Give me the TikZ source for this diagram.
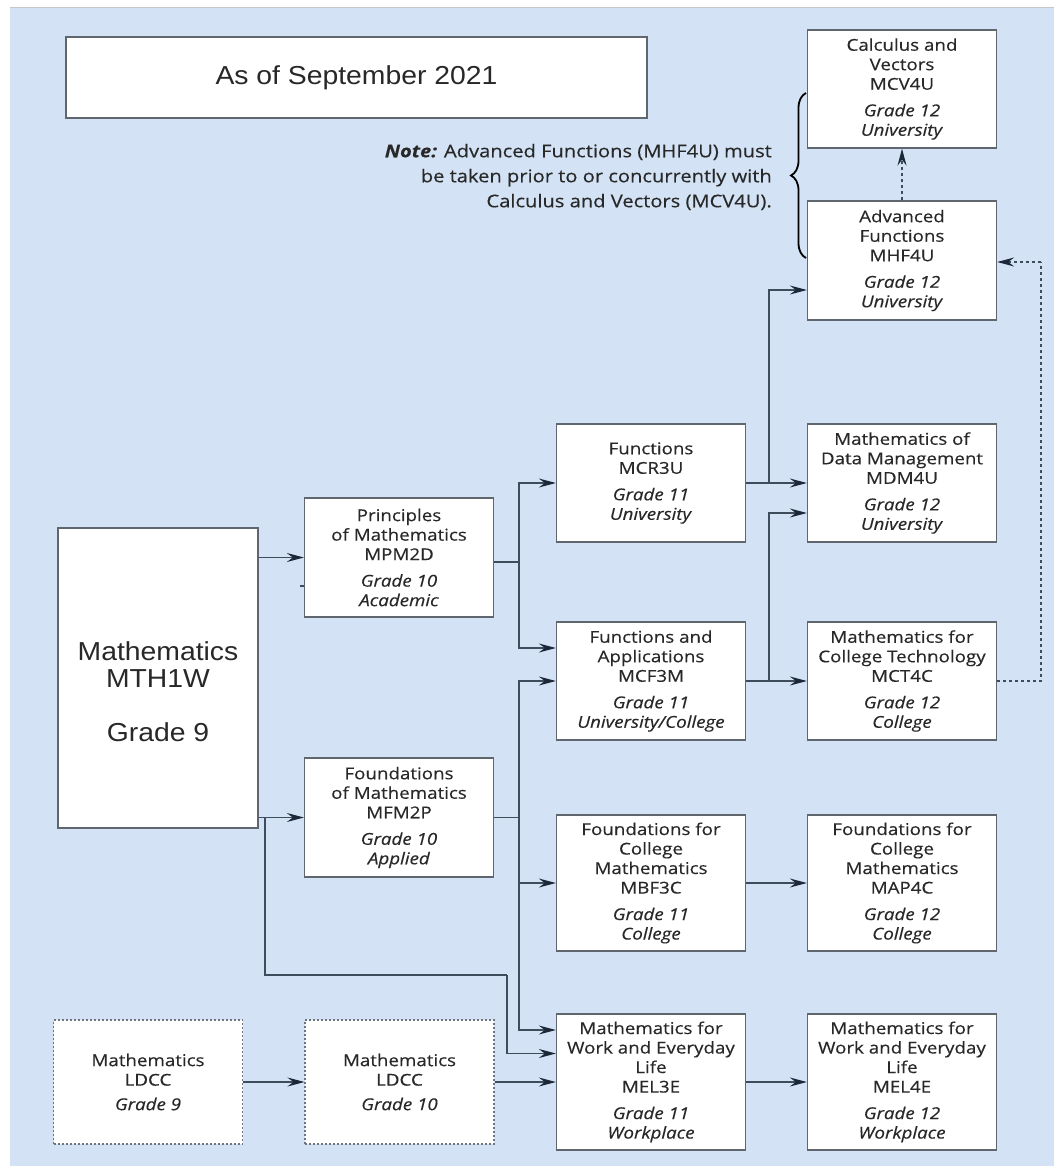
\documentclass[tikz,border=0pt]{standalone}
\usepackage{fontspec}
\setmainfont{Open Sans}[FakeStretch=1.15,FakeBold=0.35]
\newfontfamily\arialf{Liberation Sans}[FakeStretch=1.09]
\usetikzlibrary{arrows.meta,decorations.pathreplacing}
\definecolor{bgblue}{RGB}{211,226,244}
\definecolor{boxline}{RGB}{95,102,110}
\definecolor{conn}{RGB}{62,76,92}
\definecolor{tipcol}{RGB}{28,40,56}
\definecolor{txt}{RGB}{40,40,40}
\tikzset{
  box/.style={draw=boxline, fill=white, line width=1.3pt, minimum width=189pt,
    inner sep=0pt, align=center, text=txt, font=\fontsize{16.3}{19.5}\selectfont},
  dbox/.style={box, draw=boxline!90, dash pattern=on 2pt off 2pt, line width=1.1pt},
  ln/.style={draw=conn, line width=1.3pt},
  arr/.style={ln, -{Stealth[length=17pt,width=9pt,inset=6pt,color=tipcol]}},
  dotln/.style={draw=conn, line width=1.2pt, dash pattern=on 3pt off 3pt},
  dotarr/.style={dotln, -{Stealth[length=17pt,width=9pt,inset=6pt,color=tipcol]}},
  bigtxt/.style={text=txt, font=\arialf\fontsize{26}{27}\selectfont, align=center, inner sep=0pt}
}
\begin{document}
\begin{tikzpicture}[x=1pt,y=-1pt]
\useasboundingbox (0,0) rectangle (1054,1166);
\fill[white] (0,0) rectangle (1054,1166);
\fill[bgblue] (10,7) rectangle (1054,1166);
\draw[gray!45, line width=0.8pt] (10,7) -- (1054,7);

% title
\node[box, minimum width=581pt, minimum height=81pt, font=\arialf\fontsize{26}{28}\selectfont, line width=1.2pt] (title) at (356.5,77.5) {As of September 2021};

% grade 12 column
\node[box, minimum height=118pt] (mcv) at (902,89) {Calculus and\\Vectors\\MCV4U\\[7pt]\textit{Grade 12}\\\textit{University}};
\node[box, minimum height=119pt] (mhf) at (902,260.5) {Advanced\\Functions\\MHF4U\\[7pt]\textit{Grade 12}\\\textit{University}};
\node[box, minimum height=118pt] (mdm) at (902,483) {Mathematics of\\Data Management\\MDM4U\\[7pt]\textit{Grade 12}\\\textit{University}};
\node[box, minimum height=118pt] (mct) at (902,681) {Mathematics for\\College Technology\\MCT4C\\[7pt]\textit{Grade 12}\\\textit{College}};
\node[box, minimum height=136pt] (map) at (902,883) {Foundations for\\College\\Mathematics\\MAP4C\\[7pt]\textit{Grade 12}\\\textit{College}};
\node[box, minimum height=136pt] (mel4) at (902,1082) {Mathematics for\\Work and Everyday\\Life\\MEL4E\\[7pt]\textit{Grade 12}\\\textit{Workplace}};

% grade 11 column
\node[box, minimum height=118pt] (mcr) at (651,483) {Functions\\MCR3U\\[7pt]\textit{Grade 11}\\\textit{University}};
\node[box, minimum height=118pt] (mcf) at (651,681) {Functions and\\Applications\\MCF3M\\[7pt]\textit{Grade 11}\\\textit{University/College}};
\node[box, minimum height=136pt] (mbf) at (651,883) {Foundations for\\College\\Mathematics\\MBF3C\\[7pt]\textit{Grade 11}\\\textit{College}};
\node[box, minimum height=136pt] (mel3) at (651,1082) {Mathematics for\\Work and Everyday\\Life\\MEL3E\\[7pt]\textit{Grade 11}\\\textit{Workplace}};

% grade 10 column
\node[box, minimum height=119pt] (mpm) at (399,557.5) {Principles\\of Mathematics\\MPM2D\\[7pt]\textit{Grade 10}\\\textit{Academic}};
\node[box, minimum height=119pt] (mfm) at (399,817.5) {Foundations\\of Mathematics\\MFM2P\\[7pt]\textit{Grade 10}\\\textit{Applied}};
\node[dbox, minimum height=124pt] (ldcc10) at (399.5,1082) {Mathematics\\LDCC\\[5pt]\textit{Grade 10}};

% grade 9
\node[box, minimum width=200pt, minimum height=300pt] (mth) at (158,678) {};
\node[bigtxt] (mthtxt) at ([yshift=-14pt]mth.center) {Mathematics\\MTH1W\\[27pt]Grade 9};
\node[dbox, minimum height=124pt] (ldcc9) at (148,1082) {Mathematics\\LDCC\\[5pt]\textit{Grade 9}};

% note and brace
\node[text=txt, font=\fontsize{17.5}{25}\selectfont, align=right, anchor=east, inner sep=0pt] (note) at (772,177)
  {\textbf{\textit{Note:}} Advanced Functions (MHF4U) must\\be taken prior to or concurrently with\\Calculus and Vectors (MCV4U).};
\coordinate (brB) at (806,258);
\coordinate (brT) at (806,93);
\draw[black, line width=1.8pt, decorate, decoration={brace, amplitude=15pt}] (brB) -- (brT);

% junctions
\coordinate (jA) at (519,562);
\coordinate (jB) at (519,817.5);
\coordinate (jC) at (769,483);
\coordinate (jD) at (769,681);
\coordinate (jE) at (265,817.5);
\coordinate (jF) at (265,975);
\coordinate (jG) at (507,975);
\coordinate (jH) at (1041,681);
\coordinate (jI) at (1041,262);

% grade 9 -> 10
\draw[arr] (mth.east |- mpm.west) -- (mpm.west);
\draw[ln] ([yshift=-28.5pt]mpm.west) -- ++(-4,0);
\draw[arr] (mth.east |- mfm.west) -- (mfm.west);
\draw[ln] (jE) -- (jF) -- (jG);
\draw[arr] (jG) |- ([yshift=28.5pt]mel3.west);
\draw[arr] (ldcc9.east) -- (ldcc10.west);
\draw[arr] (ldcc10.east) -- (mel3.west);

% grade 10 -> 11
\draw[ln] ([yshift=-4.5pt]mpm.east) -- (jA);
\draw[arr] (jA) |- (mcr.west);
\draw[arr] (jA) |- ([yshift=33pt]mcf.west);
\draw[ln] (mfm.east) -- (jB);
\draw[arr] (jB) |- (mcf.west);
\draw[arr] (jB) |- (mbf.west);
\draw[arr] (jB) |- ([yshift=52pt]mel3.west);

% grade 11 -> 12
\draw[arr] (mcr.east) -- (mdm.west);
\draw[arr] (jC) |- ([yshift=-29.5pt]mhf.west);
\draw[arr] (mcf.east) -- (mct.west);
\draw[arr] (jD) |- ([yshift=-30pt]mdm.west);
\draw[arr] (mbf.east) -- (map.west);
\draw[arr] (mel3.east) -- (mel4.west);
\draw[dotln] (mct.east) -- (jH) -- (jI);
\draw[dotarr] (jI) -- (mhf.east |- jI);
\draw[dotarr] (mhf.north) -- (mcv.south);
\end{tikzpicture}
\end{document}
